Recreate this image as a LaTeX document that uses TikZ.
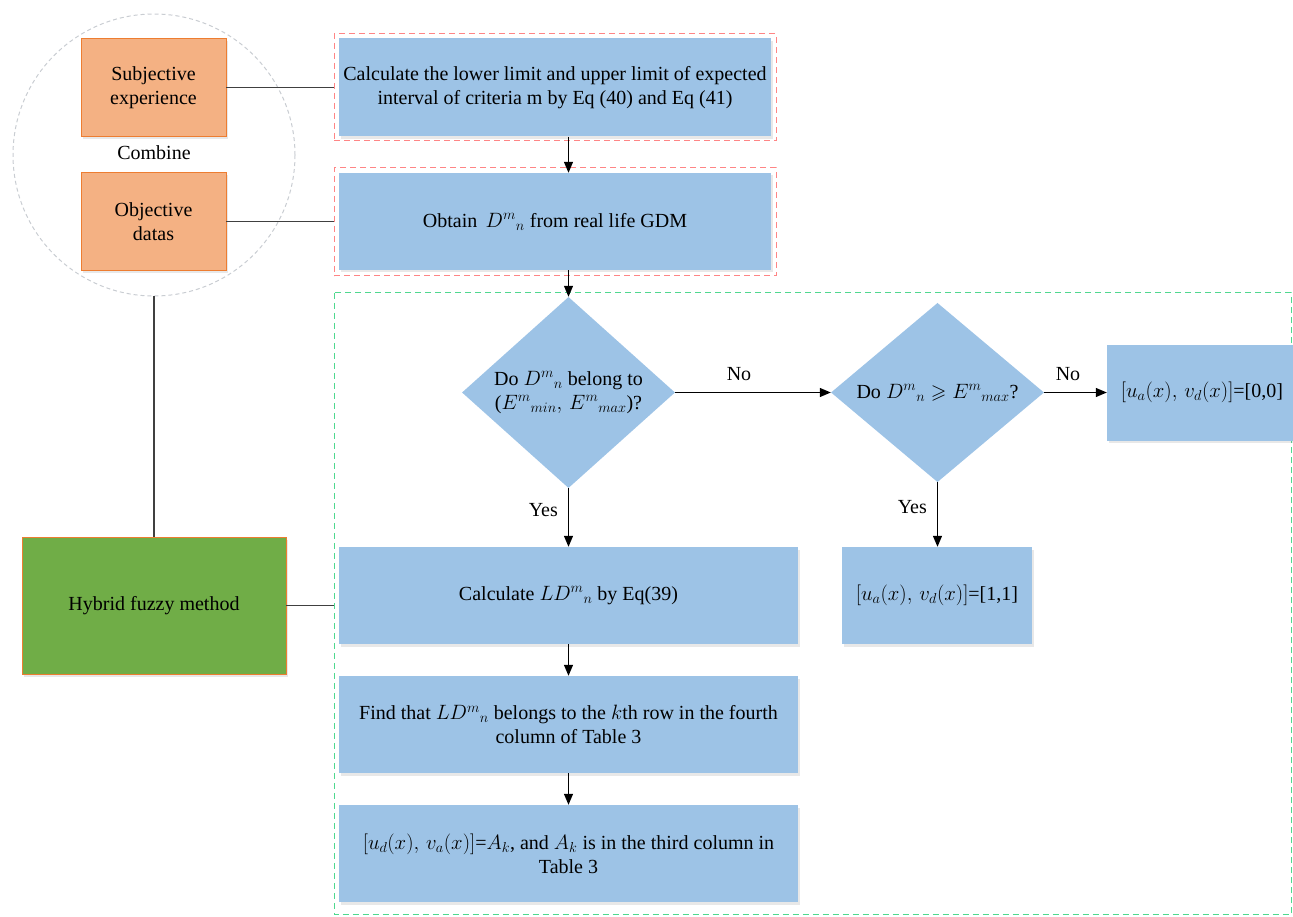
\documentclass[tikz,border=0pt]{standalone}
\usepackage{amssymb}
\usepackage{fontspec}
\setmainfont{Liberation Serif}
\usetikzlibrary{arrows.meta,shapes.geometric,shadows}
\definecolor{boxblue}{HTML}{9DC3E6}
\definecolor{boxorange}{HTML}{F4B183}
\definecolor{orangeedge}{HTML}{ED7D31}
\definecolor{hybgreen}{HTML}{70AD47}
\definecolor{reddash}{HTML}{FF8585}
\definecolor{greendash}{HTML}{4FD98F}
\definecolor{circgray}{HTML}{C9CDD2}
\definecolor{linegray}{HTML}{404040}
\begin{document}
\begin{tikzpicture}[x=1pt,y=-1pt,
  font=\fontsize{20}{24}\selectfont,
  shad/.style={drop shadow={opacity=0.18,shadow xshift=1.5pt,shadow yshift=-2.5pt}},
  bluebox/.style={fill=boxblue,draw=none,align=center,inner sep=0pt,shad},
  orangebox/.style={fill=boxorange,draw=orangeedge,line width=0.8pt,align=center,inner sep=0pt,minimum width=145pt,minimum height=98pt,shad},
  decision/.style={diamond,fill=boxblue,draw=none,align=center,inner sep=0pt,minimum width=213pt,minimum height=170pt},
  redframe/.style={draw=reddash,dashed,line width=1pt,dash pattern=on 6pt off 4pt,inner sep=0pt,minimum width=442pt},
  arr/.style={-{Triangle[length=11pt,width=9pt]},line width=1.2pt,draw=black},
  plain/.style={line width=1.3pt,draw=linegray},
  lbl/.style={inner sep=0pt}]
\useasboundingbox (0,0) rectangle (1293,917);

% left circle group
\node[circle,draw=circgray,dashed,dash pattern=on 4pt off 3pt,line width=1pt,minimum size=282pt,inner sep=0pt] (circ) at (154,155) {};
\node[orangebox] (subj) at (153.5,87.5) {Subjective\\experience};
\node[lbl] (comb) at (154,153) {Combine};
\node[orangebox] (obj) at (153.5,221.5) {Objective\\datas};
\node[fill=hybgreen,draw=orangeedge,line width=0.8pt,minimum width=264pt,minimum height=137pt,inner sep=0pt,shad] (hyb) at (154,605.5) {Hybrid fuzzy method};

% red frames
\node[redframe,minimum height=107pt] (f1) at (555,87.5) {};
\node[redframe,minimum height=108pt] (f2) at (555,222) {};
% green frame
\draw[draw=greendash,line width=1pt,dash pattern=on 6pt off 4pt] (334,293) rectangle (1291,914.5);
\coordinate (gleft) at (334,605.5);

% main boxes
\node[bluebox,minimum width=432pt,minimum height=98pt] (b1) at (555,87.5)
  {Calculate the lower limit and upper limit of expected\\interval of criteria m by Eq (40) and Eq (41)};
\node[bluebox,minimum width=432pt,minimum height=97pt] (b2) at (555,221.5)
  {Obtain \,$D^{m}{}_{n}$ from real life GDM};

\node[decision] (d1) at (568.5,392.5) {Do $D^{m}{}_{n}$ belong to\\($E^{m}{}_{min},\,E^{m}{}_{max}$)?};
\node[decision] (d2) at (937.5,392.5) {Do $D^{m}{}_{n}\geqslant E^{m}{}_{max}$?};

\node[bluebox,minimum width=190pt,minimum height=96pt] (b00) at (1202,392.5) {$[u_a(x),\,v_d(x)]$=[0,0]};
\node[bluebox,minimum width=190pt,minimum height=97pt] (b11) at (937,595.5) {$[u_a(x),\,v_d(x)]$=[1,1]};

\node[bluebox,minimum width=459pt,minimum height=97pt] (b3) at (568.5,595.5) {Calculate $LD^{m}{}_{n}$ by Eq(39)};
\node[bluebox,minimum width=459pt,minimum height=97pt] (b4) at (568.5,724.5)
  {Find that $LD^{m}{}_{n}$ belongs to the $k$th row in the fourth\\column of Table 3};
\node[bluebox,minimum width=459pt,minimum height=97pt] (b5) at (568.5,853.5)
  {$[u_d(x),\,v_a(x)]$=$A_k$, and $A_k$ is in the third column in\\Table 3};

% left connectors
\draw[plain] (subj.east) -- (subj.east -| f1.west);
\draw[plain] (obj.east) -- (obj.east -| f2.west);
\draw[plain] (circ.south) -- (hyb.north);
\draw[plain] (hyb.east) -- (gleft);

% arrows
\draw[arr] (b1.south -| d1.north) -- (b2.north -| d1.north);
\draw[arr] (b2.south -| d1.north) -- (d1.north);
\draw[arr] (d1.east) -- node[lbl,above=11pt,pos=0.41] {No} (d2.west);
\draw[arr] (d2.east) -- node[lbl,above=11pt,pos=0.38] {No} (b00.west);
\draw[arr] (d1.south) -- node[lbl,left=10pt,pos=0.38] {Yes} (b3.north -| d1.south);
\draw[arr] (d2.south) -- node[lbl,left=10pt,pos=0.38] {Yes} (b11.north -| d2.south);
\draw[arr] (b3.south) -- (b4.north);
\draw[arr] (b4.south) -- (b5.north);
\end{tikzpicture}
\end{document}
